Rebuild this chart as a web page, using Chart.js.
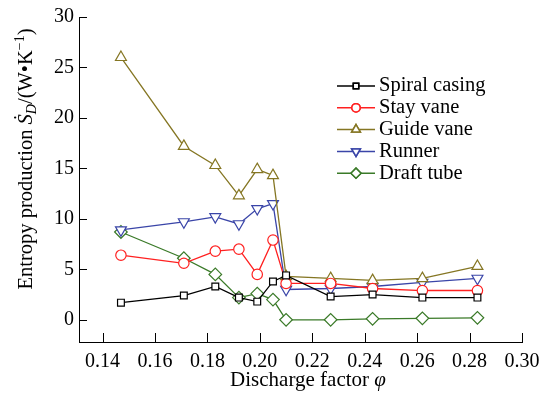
<!DOCTYPE html>
<html>
<head>
<meta charset="utf-8">
<script src="https://cdn.jsdelivr.net/npm/chart.js@4"></script>
<style>
  html, body { margin: 0; padding: 0; background: #fff; }
  #wrap { width: 550px; height: 399px; }
</style>
</head>
<body>
<div id="wrap"><canvas id="chart" width="550" height="399"></canvas></div>
<script>
// discharge factor values
const phi = [0.147, 0.171, 0.183, 0.192, 0.199, 0.205, 0.210, 0.227, 0.243, 0.262, 0.283];

// entropy production by component (W/K)
const spiralCasing = [1.7, 2.4, 3.3, 2.2, 1.8, 3.8, 4.4, 2.3, 2.5, 2.2, 2.2];
const stayVane     = [6.4, 5.6, 6.8, 7.0, 4.5, 7.9, 3.6, 3.6, 3.1, 2.9, 2.9];
const guideVane    = [26.0, 17.2, 15.3, 12.3, 14.9, 14.3, 4.3, 4.1, 3.9, 4.1, 5.3];
const runner       = [8.9, 9.7, 10.2, 9.5, 11.0, 11.5, 3.0, 3.1, 3.3, 3.7, 4.1];
const draftTube    = [8.7, 6.1, 4.5, 2.2, 2.6, 2.0, 0.0, 0.0, 0.1, 0.15, 0.2];

const xTicks = [0.14, 0.16, 0.18, 0.20, 0.22, 0.24, 0.26, 0.28, 0.30];
const yTicks = [0, 5, 10, 15, 20, 25, 30];

const FONT = '"Liberation Serif", "Times New Roman", serif';

const series = [
  { label: 'Spiral casing', data: spiralCasing, color: '#000000', style: 'rect', rot: 0, r: 4.8 },
  { label: 'Stay vane', data: stayVane, color: '#ff2020', style: 'circle', rot: 0, r: 5.2 },
  { label: 'Guide vane', data: guideVane, color: '#857623', style: 'triangle', rot: 0, r: 6.3 },
  { label: 'Runner', data: runner, color: '#3a45a8', style: 'triangle', rot: 180, r: 6.3 },
  { label: 'Draft tube', data: draftTube, color: '#3a7a28', style: 'rectRot', rot: 0, r: 6.3 }
];

const datasets = series.map(s => ({
  label: s.label,
  data: phi.map((x, i) => ({ x: x, y: s.data[i] })),
  borderColor: s.color,
  backgroundColor: '#fff',
  borderWidth: 1.3,
  pointStyle: s.style,
  pointRotation: s.rot,
  pointRadius: s.r,
  pointBorderWidth: 1.2,
  pointBackgroundColor: '#fff',
  pointBorderColor: s.color,
  tension: 0
}));

// inner ticks, axis titles and legend
const decor = {
  id: 'decor',
  afterDraw(chart) {
    const ctx = chart.ctx;
    const xs = chart.scales.x, ys = chart.scales.y;
    const area = chart.chartArea;
    ctx.save();
    ctx.strokeStyle = '#000';
    ctx.lineWidth = 1;
    xTicks.forEach(v => {
      const px = Math.round(xs.getPixelForValue(v)) + 0.5;
      ctx.beginPath();
      ctx.moveTo(px, area.bottom);
      ctx.lineTo(px, area.bottom - 9);
      ctx.stroke();
    });
    yTicks.forEach(v => {
      const py = Math.round(ys.getPixelForValue(v)) + 0.5;
      ctx.beginPath();
      ctx.moveTo(area.left, py);
      ctx.lineTo(area.left + 8, py);
      ctx.stroke();
    });

    // x title
    ctx.fillStyle = '#000';
    ctx.textBaseline = 'middle';
    const t1 = 'Discharge factor ';
    ctx.font = 'italic 21px ' + FONT;
    const wPhi = ctx.measureText('φ').width;
    ctx.font = '21px ' + FONT;
    const w1 = ctx.measureText(t1).width;
    let sx = 308 - (w1 + wPhi) / 2;
    ctx.textAlign = 'left';
    ctx.fillText(t1, sx, 380);
    ctx.font = 'italic 21px ' + FONT;
    ctx.fillText('φ', sx + w1, 380);

    // y title (rotated)
    ctx.save();
    ctx.translate(27, 159);
    ctx.rotate(-Math.PI / 2);
    const parts = [
      { t: 'Entropy production ', f: '20.5px ', dy: 0 },
      { t: 'Ṡ', f: 'italic 20.5px ', dy: 0 },
      { t: 'D', f: 'italic 14px ', dy: 5 },
      { t: '/(W•K', f: '20.5px ', dy: 0 },
      { t: '−1', f: '14px ', dy: -7 },
      { t: ')', f: '20.5px ', dy: 0 }
    ];
    let total = 0;
    parts.forEach(p => { ctx.font = p.f + FONT; p.w = ctx.measureText(p.t).width; total += p.w; });
    let cx = -total / 2;
    parts.forEach(p => {
      ctx.font = p.f + FONT;
      ctx.fillText(p.t, cx, p.dy);
      cx += p.w;
    });
    ctx.restore();

    // legend
    const lx = 337, lw = 38, ly0 = 86, step = 21.8;
    chart.data.datasets.forEach((ds, i) => {
      const y = ly0 + i * step;
      ctx.strokeStyle = ds.borderColor;
      ctx.lineWidth = 1.5;
      ctx.beginPath();
      ctx.moveTo(lx, y);
      ctx.lineTo(lx + lw, y);
      ctx.stroke();
      Chart.helpers.drawPoint(ctx, {
        pointStyle: ds.pointStyle,
        rotation: ds.pointRotation,
        radius: ds.pointRadius * 0.8,
        borderWidth: 1.2
      }, lx + lw / 2, y);
      ctx.fillStyle = '#fff';
      ctx.fill();
      ctx.stroke();
      ctx.fillStyle = '#000';
      ctx.font = '20.5px ' + FONT;
      ctx.textAlign = 'left';
      ctx.fillText(ds.label, lx + lw + 4, y);
    });
    ctx.restore();
  }
};

new Chart(document.getElementById('chart'), {
  type: 'line',
  data: { datasets: datasets },
  options: {
    responsive: false,
    animation: false,
    layout: { padding: { top: 15, right: 28, left: 0, bottom: 0 } },
    plugins: { legend: { display: false }, tooltip: { enabled: false } },
    scales: {
      x: {
        type: 'linear',
        min: 0.131,
        max: 0.30,
        afterBuildTicks: s => { s.ticks = xTicks.map(v => ({ value: v })); },
        afterFit: s => { s.height = 57; },
        grid: { drawOnChartArea: false, drawTicks: false },
        border: { display: true, color: '#000', width: 1 },
        ticks: {
          color: '#000',
          padding: 8,
          maxRotation: 0,
          font: { family: FONT, size: 20 },
          callback: v => v.toFixed(2)
        }
      },
      y: {
        type: 'linear',
        min: -2.2,
        max: 30,
        afterBuildTicks: s => { s.ticks = yTicks.map(v => ({ value: v })); },
        afterFit: s => { s.width = 79; },
        grid: { drawOnChartArea: false, drawTicks: false },
        border: { display: true, color: '#000', width: 1 },
        ticks: {
          color: '#000',
          padding: 5,
          font: { family: FONT, size: 20 },
          callback: v => String(v)
        }
      }
    }
  },
  plugins: [decor]
});
</script>
</body>
</html>
